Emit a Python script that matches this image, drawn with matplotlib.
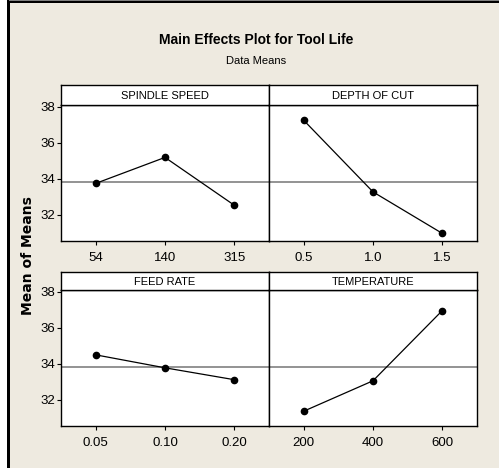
import matplotlib.pyplot as plt
from matplotlib.patches import Rectangle

# Данные: средние значения по уровням факторов
factors = ['SPINDLE SPEED', 'DEPTH OF CUT', 'FEED RATE', 'TEMPERATURE']
levels = [['54', '140', '315'],
          ['0.5', '1.0', '1.5'],
          ['0.05', '0.10', '0.20'],
          ['200', '400', '600']]
spindle_means = [33.74, 35.18, 32.53]
depth_means = [37.24, 33.27, 30.97]
feed_means = [34.50, 33.78, 33.12]
temp_means = [31.37, 33.06, 36.96]
all_means = [spindle_means, depth_means, feed_means, temp_means]
grand_mean = 33.83
y_ticks = [32, 34, 36, 38]

narrow = 'Liberation Sans'
bg = '#eeeae0'

W, H = 499, 468
fig = plt.figure(figsize=(W / 100, H / 100), dpi=100, facecolor=bg)

# рамка как на скриншоте
fig.patches.append(Rectangle((0, 0), 7 / W, 1, transform=fig.transFigure,
                             facecolor='white', edgecolor='none'))
fig.patches.append(Rectangle((7 / W, 0), 2.5 / W, 1, transform=fig.transFigure,
                             facecolor='black', edgecolor='none'))
fig.patches.append(Rectangle((9 / W, 1 - 1 / H), 1 - 9 / W, 1 / H, transform=fig.transFigure,
                             facecolor='#808080', edgecolor='none'))
fig.patches.append(Rectangle((9 / W, 1 - 2.5 / H), 1 - 9 / W, 1.5 / H,
                             transform=fig.transFigure, facecolor='black', edgecolor='none'))

fig.text(256 / W, 1 - 40 / H, 'Main Effects Plot for Tool Life', ha='center', va='center',
         fontsize=10, fontweight='bold', family=narrow)
fig.text(256 / W, 1 - 61 / H, 'Data Means', ha='center', va='center',
         fontsize=8, family=narrow)
fig.text(28 / W, 1 - 256 / H, 'Mean of Means', ha='center', va='center', rotation=90,
         fontsize=10, fontweight='bold', family='DejaVu Sans')

col_x = [61, 269]
col_w = 208
rows = [(104.7, 241, 85), (290, 426, 272)]  # верх графика, низ графика, верх заголовка

for i in range(4):
    r, c = divmod(i, 2)
    top, bot, strip_top = rows[r]
    x0 = col_x[c]
    ax = fig.add_axes([x0 / W, 1 - bot / H, col_w / W, (bot - top) / H])
    ax.set_facecolor('white')
    ax.axhline(grand_mean, color='#808080', lw=1.2, zorder=1)
    ax.plot(range(3), all_means[i], color='black', lw=0.9, marker='o',
            markersize=4.5, zorder=3)
    ax.set_xlim(-0.5, 2.5)
    ax.set_ylim(30.55, 38.1)
    ax.set_xticks(range(3))
    ax.set_xticklabels(levels[i], family=narrow, fontsize=9.5)
    if c == 0:
        ax.set_yticks(y_ticks)
        ax.set_yticklabels([str(v) for v in y_ticks], family=narrow, fontsize=9.5)
    else:
        ax.set_yticks([])
    ax.tick_params(direction='out', length=3, width=0.8, pad=1.5)
    ax.tick_params(axis='x', pad=5)
    for s in ax.spines.values():
        s.set_linewidth(1)

    # полоса с названием фактора
    sx = fig.add_axes([x0 / W, 1 - top / H, col_w / W, (top - strip_top) / H])
    sx.set_facecolor('white')
    sx.set_xticks([])
    sx.set_yticks([])
    for s in sx.spines.values():
        s.set_linewidth(1)
    sx.text(0.5, 0.45, factors[i], ha='center', va='center', transform=sx.transAxes,
            fontsize=8, family=narrow)

fig.savefig('out.png', dpi=100, facecolor=bg)
